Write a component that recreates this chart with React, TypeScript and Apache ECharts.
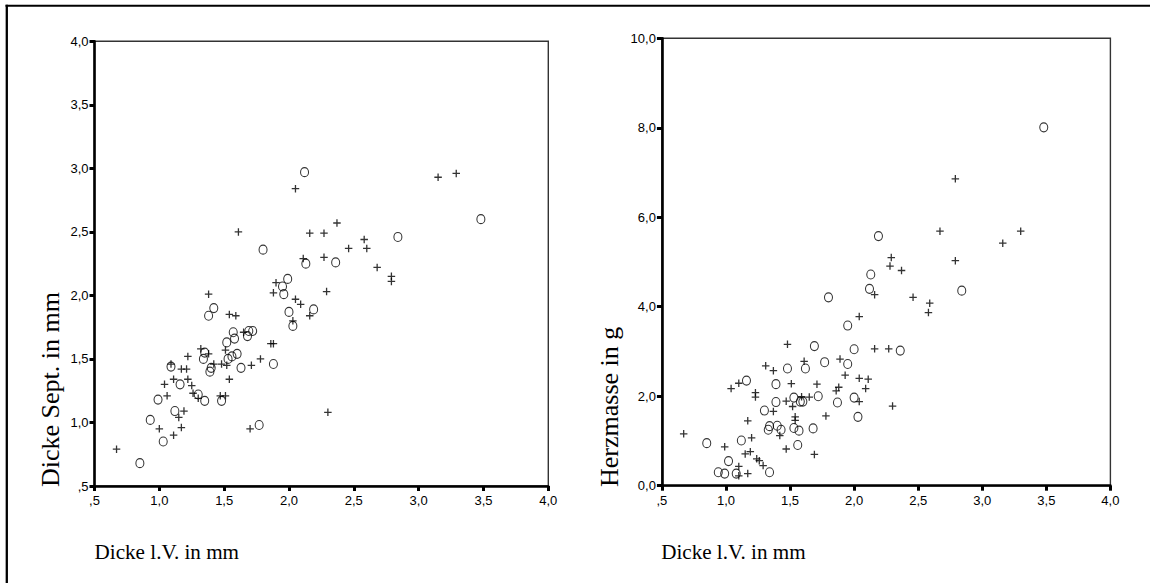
import React, { useEffect, useRef } from "react";
import * as echarts from "echarts";

// Dicke l.V. (x) vs. Dicke Sept. (y) – group "+"
const septPlus: [number, number][] = [
  [2.05, 2.84], [3.15, 2.93], [3.29, 2.96], [1.61, 2.5], [2.37, 2.57], [2.16, 2.49], [2.27, 2.49],
  [2.46, 2.37], [2.58, 2.44], [2.6, 2.37], [2.11, 2.29], [2.27, 2.3], [2.68, 2.22], [2.79, 2.15],
  [2.79, 2.11], [1.9, 2.1], [1.38, 2.01], [1.88, 2.02], [2.29, 2.03], [2.05, 1.97], [2.09, 1.93],
  [2.16, 1.84], [2.03, 1.8], [1.54, 1.85], [1.59, 1.84], [1.65, 1.71], [1.86, 1.62], [1.88, 1.62],
  [1.51, 1.57], [1.52, 1.45], [1.48, 1.46], [1.54, 1.34], [1.71, 1.45], [1.78, 1.5], [1.32, 1.58],
  [1.38, 1.54], [1.42, 1.46], [1.22, 1.52], [1.09, 1.46], [1.17, 1.42], [1.21, 1.42], [1.11, 1.34],
  [1.22, 1.34], [1.25, 1.29], [1.04, 1.3], [1.26, 1.23], [1.3, 1.19], [1.06, 1.21], [1.47, 1.21],
  [1.51, 1.21], [1.19, 1.09], [1.15, 1.04], [1.0, 0.95], [1.17, 0.96], [1.11, 0.9], [0.67, 0.79],
  [1.7, 0.95], [2.3, 1.08],
];
// group "o"
const septCircle: [number, number][] = [
  [2.12, 2.97], [3.48, 2.6], [2.84, 2.46], [1.8, 2.36], [2.13, 2.25], [2.36, 2.26], [1.99, 2.13],
  [1.95, 2.07], [1.96, 2.01], [2.0, 1.87], [2.19, 1.89], [2.03, 1.76], [1.42, 1.9], [1.38, 1.84],
  [1.57, 1.71], [1.58, 1.66], [1.69, 1.72], [1.68, 1.68], [1.72, 1.72], [1.52, 1.63], [1.6, 1.54],
  [1.56, 1.52], [1.53, 1.5], [1.63, 1.43], [1.88, 1.46], [1.35, 1.55], [1.34, 1.5], [1.4, 1.43],
  [1.39, 1.4], [1.09, 1.44], [1.16, 1.3], [1.3, 1.22], [1.35, 1.17], [0.99, 1.18], [1.48, 1.17],
  [1.12, 1.09], [0.93, 1.02], [1.03, 0.85], [0.85, 0.68], [1.77, 0.98],
];
// Dicke l.V. (x) vs. Herzmasse (y) – group "+"
const massPlus: [number, number][] = [
  [2.79, 6.86], [2.67, 5.69], [3.3, 5.69], [3.16, 5.42], [2.29, 5.1], [2.28, 4.91], [2.37, 4.81],
  [2.79, 5.03], [2.16, 4.27], [2.46, 4.21], [2.59, 4.08], [2.58, 3.87], [2.04, 3.78], [1.48, 3.16],
  [2.16, 3.06], [2.27, 3.06], [1.61, 2.78], [1.31, 2.68], [1.37, 2.57], [1.89, 2.83], [1.93, 2.47],
  [2.04, 2.4], [2.11, 2.38], [2.09, 2.17], [1.71, 2.27], [1.51, 2.28], [1.1, 2.29], [1.04, 2.17],
  [1.23, 2.08], [1.23, 1.98], [1.37, 1.66], [1.47, 1.89], [1.52, 1.77], [1.59, 1.99], [1.65, 1.98],
  [1.86, 2.12], [1.88, 2.2], [2.04, 1.88], [2.3, 1.78], [1.78, 1.56], [1.54, 1.54], [1.54, 1.46],
  [1.17, 1.45], [1.2, 1.07], [1.42, 1.12], [1.47, 0.82], [1.69, 0.7], [0.67, 1.16], [0.99, 0.87],
  [1.15, 0.71], [1.19, 0.76], [1.24, 0.6], [1.26, 0.56], [1.29, 0.45], [1.1, 0.43], [1.1, 0.22],
  [1.17, 0.27],
];
// group "o"
const massCircle: [number, number][] = [
  [3.48, 8.01], [2.19, 5.58], [2.13, 4.72], [2.12, 4.4], [2.84, 4.36], [1.8, 4.21], [1.95, 3.58],
  [1.69, 3.12], [2.0, 3.05], [2.36, 3.02], [1.77, 2.76], [1.62, 2.62], [1.48, 2.62], [1.95, 2.72],
  [1.39, 2.27], [1.16, 2.35], [1.39, 1.87], [1.3, 1.68], [1.53, 1.97], [1.58, 1.88], [1.6, 1.88],
  [1.72, 2.0], [1.87, 1.86], [2.0, 1.97], [2.03, 1.54], [1.34, 1.33], [1.4, 1.34], [1.33, 1.25],
  [1.43, 1.25], [1.53, 1.29], [1.57, 1.23], [1.68, 1.28], [1.56, 0.91], [0.85, 0.95], [1.12, 1.01],
  [1.02, 0.55], [0.94, 0.3], [0.99, 0.27], [1.08, 0.27], [1.34, 0.3],
];

const xTickLabels = [",5", "1,0", "1,5", "2,0", "2,5", "3,0", "3,5", "4,0"];
const septTickLabels = [",5", "1,0", "1,5", "2,0", "2,5", "3,0", "3,5", "4,0"];
const massTickLabels = ["0,0", "2,0", "4,0", "6,0", "8,0", "10,0"];

const xTitle = "Dicke l.V. in mm";
const septTitle = "Dicke Sept. in mm";
const massTitle = "Herzmasse in g";

const SANS = "'Liberation Sans', Arial, sans-serif";
const SERIF = "'Liberation Serif', 'Times New Roman', serif";

const PLUS = "path://M0,4L8,4M4,0L4,8";
const ELLIPSE = "path://M0,4.5A4,4.5 0 1,0 8,4.5A4,4.5 0 1,0 0,4.5Z";

function makeAxis(min: number, max: number, interval: number, labels: string[], gridIndex: number, isX: boolean) {
  return {
    type: "value",
    gridIndex,
    min,
    max,
    interval,
    axisLine: { show: true, onZero: false, lineStyle: { color: "#000", width: 2.6 } },
    axisTick: { show: true, length: 5, lineStyle: { color: "#000", width: 3 } },
    splitLine: { show: false },
    axisLabel: {
      color: "#000",
      fontFamily: SANS,
      fontSize: 13,
      margin: isX ? 8 : 6,
      formatter: (v: number) => labels[Math.round((v - min) / interval)] ?? "",
    },
  };
}

export default function App() {
  const ref = useRef<HTMLDivElement>(null);
  useEffect(() => {
    if (!ref.current) return;
    const chart = echarts.init(ref.current, undefined, { renderer: "svg" });
    const plusStyle = { color: "#000", borderColor: "#000", borderWidth: 1.3 };
    const circStyle = { color: "rgba(0,0,0,0)", borderColor: "#000", borderWidth: 1.1 };
    chart.setOption({
      animation: false,
      backgroundColor: "#fff",
      grid: [
        { left: 94.5, top: 41.3, width: 453.8, height: 444.7, show: true, borderColor: "#333", borderWidth: 1.4, backgroundColor: "transparent" },
        { left: 661.9, top: 38.3, width: 448.5, height: 447.4, show: true, borderColor: "#333", borderWidth: 1.4, backgroundColor: "transparent" },
      ],
      xAxis: [
        makeAxis(0.5, 4, 0.5, xTickLabels, 0, true),
        makeAxis(0.5, 4, 0.5, xTickLabels, 1, true),
      ],
      yAxis: [
        makeAxis(0.5, 4, 0.5, septTickLabels, 0, false),
        makeAxis(0, 10, 2, massTickLabels, 1, false),
      ],
      series: [
        { type: "scatter", xAxisIndex: 0, yAxisIndex: 0, data: septPlus, symbol: PLUS, symbolSize: [7.5, 7.5], itemStyle: plusStyle, silent: true },
        { type: "scatter", xAxisIndex: 0, yAxisIndex: 0, data: septCircle, symbol: ELLIPSE, symbolSize: [8, 9], itemStyle: circStyle, silent: true },
        { type: "scatter", xAxisIndex: 1, yAxisIndex: 1, data: massPlus, symbol: PLUS, symbolSize: [7.5, 7.5], itemStyle: plusStyle, silent: true },
        { type: "scatter", xAxisIndex: 1, yAxisIndex: 1, data: massCircle, symbol: ELLIPSE, symbolSize: [8, 9], itemStyle: circStyle, silent: true },
      ],
      graphic: [
        { type: "line", shape: { x1: 5.5, y1: 5.8, x2: 1150, y2: 5.8 }, style: { stroke: "#000", lineWidth: 2 } },
        { type: "line", shape: { x1: 6.8, y1: 4.8, x2: 6.8, y2: 583 }, style: { stroke: "#000", lineWidth: 2.3 } },
        {
          type: "text", x: 94.6, y: 551.5, scaleX: 0.96,
          style: { text: xTitle, fontFamily: SERIF, fontSize: 22, fill: "#000", align: "left", verticalAlign: "middle", textAlign: "left", textVerticalAlign: "middle" },
        },
        {
          type: "text", x: 661.2, y: 551.5, scaleX: 0.96,
          style: { text: xTitle, fontFamily: SERIF, fontSize: 22, fill: "#000", align: "left", verticalAlign: "middle", textAlign: "left", textVerticalAlign: "middle" },
        },
        {
          type: "text", x: 50.5, y: 487, rotation: Math.PI / 2,
          style: { text: septTitle, fontFamily: SERIF, fontSize: 26, fill: "#000", align: "left", verticalAlign: "middle", textAlign: "left", textVerticalAlign: "middle" },
        },
        {
          type: "text", x: 609.7, y: 487, rotation: Math.PI / 2,
          style: { text: massTitle, fontFamily: SERIF, fontSize: 26, fill: "#000", align: "left", verticalAlign: "middle", textAlign: "left", textVerticalAlign: "middle" },
        },
      ],
    });
    return () => chart.dispose();
  }, []);
  return <div ref={ref} style={{ position: "fixed", left: 0, top: 0, width: 1150, height: 583 }} />;
}
